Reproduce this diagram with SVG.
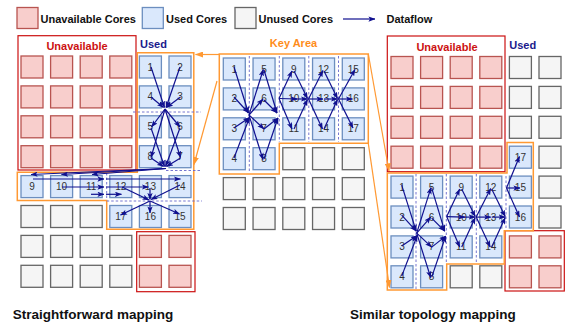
<svg xmlns="http://www.w3.org/2000/svg" xmlns:xlink="http://www.w3.org/1999/xlink" width="569" height="328" viewBox="0 0 569 328">
  <style>
    text { font-family: "Liberation Sans", Arial, sans-serif; }
    .un { fill: #F8CECC; stroke: #B85450; stroke-width: 1.3; }
    .us { fill: #DAE8FC; stroke: #6C8EBF; stroke-width: 1.3; }
    .uu { fill: #F5F5F5; stroke: #666666; stroke-width: 1.3; }
    .nl { font-size: 10px; fill: #333333; text-anchor: middle; }
    .lg { font-size: 11px; font-weight: bold; fill: #111111; }
    .cap { font-size: 13.5px; font-weight: bold; fill: #111111; }
    .redbox { fill: none; stroke: #CC1111; stroke-width: 1.2; }
    .orbox { fill: none; stroke: #FF9933; stroke-width: 1.5; }
    .redlbl { font-size: 11px; font-weight: bold; fill: #CC1111; text-anchor: middle; }
    .usedlbl { font-size: 11px; font-weight: bold; fill: #1A1A8C; }
    .keylbl { font-size: 11px; font-weight: bold; fill: #FF8C1A; text-anchor: middle; }
    .df { fill: none; stroke: #10108F; stroke-width: 1.2; marker-end: url(#ah); }
    .zoom { fill: none; stroke: #FF9933; stroke-width: 1.2; marker-end: url(#oh); }
    .dash { fill: none; stroke: #6666CC; stroke-width: 0.9; stroke-dasharray: 2.5 2; }
  </style>
  <defs>
    <marker id="ah" viewBox="0 0 8 6" refX="7.5" refY="3" markerWidth="7" markerHeight="5.25" orient="auto" markerUnits="userSpaceOnUse">
      <path d="M0,0 L8,3 L0,6 L1.8,3 z" fill="#10108F"/>
    </marker>
    <marker id="oh" viewBox="0 0 8 6" refX="7.5" refY="3" markerWidth="8" markerHeight="6" orient="auto" markerUnits="userSpaceOnUse">
      <path d="M0,0 L8,3 L0,6 z" fill="#FF9933"/>
    </marker>
  </defs>

  <!-- legend -->
  <g id="legend">
    <rect class="un" x="17" y="7.5" width="21" height="21"/>
    <text class="lg" x="40.5" y="22.5">Unavailable Cores</text>
    <rect class="us" x="142.3" y="7.5" width="21" height="21"/>
    <text class="lg" x="166" y="22.5">Used Cores</text>
    <rect class="uu" x="235" y="7.5" width="21" height="21"/>
    <text class="lg" x="258.5" y="22.5">Unused Cores</text>
    <path class="df" d="M343,19 L375,19"/>
    <text class="lg" x="386.5" y="22.5">Dataflow</text>
  </g>

  <!-- ===== left: straightforward mapping ===== -->
  <g id="left-unavailable">
    <rect class="un" x="21" y="56" width="22" height="22"/><rect class="un" x="50.6" y="56" width="22" height="22"/><rect class="un" x="80.2" y="56" width="22" height="22"/><rect class="un" x="109.8" y="56" width="22" height="22"/>
    <rect class="un" x="21" y="85.9" width="22" height="22"/><rect class="un" x="50.6" y="85.9" width="22" height="22"/><rect class="un" x="80.2" y="85.9" width="22" height="22"/><rect class="un" x="109.8" y="85.9" width="22" height="22"/>
    <rect class="un" x="21" y="115.8" width="22" height="22"/><rect class="un" x="50.6" y="115.8" width="22" height="22"/><rect class="un" x="80.2" y="115.8" width="22" height="22"/><rect class="un" x="109.8" y="115.8" width="22" height="22"/>
    <rect class="un" x="21" y="145.7" width="22" height="22"/><rect class="un" x="50.6" y="145.7" width="22" height="22"/><rect class="un" x="80.2" y="145.7" width="22" height="22"/><rect class="un" x="109.8" y="145.7" width="22" height="22"/>
    <rect class="un" x="139.4" y="235.4" width="22" height="22"/><rect class="un" x="169" y="235.4" width="22" height="22"/>
    <rect class="un" x="139.4" y="265.3" width="22" height="22"/><rect class="un" x="169" y="265.3" width="22" height="22"/>
  </g>
  <g id="left-unused">
    <rect class="uu" x="21" y="205.5" width="22" height="22"/><rect class="uu" x="50.6" y="205.5" width="22" height="22"/><rect class="uu" x="80.2" y="205.5" width="22" height="22"/>
    <rect class="uu" x="21" y="235.4" width="22" height="22"/><rect class="uu" x="50.6" y="235.4" width="22" height="22"/><rect class="uu" x="80.2" y="235.4" width="22" height="22"/><rect class="uu" x="109.8" y="235.4" width="22" height="22"/>
    <rect class="uu" x="21" y="265.3" width="22" height="22"/><rect class="uu" x="50.6" y="265.3" width="22" height="22"/><rect class="uu" x="80.2" y="265.3" width="22" height="22"/><rect class="uu" x="109.8" y="265.3" width="22" height="22"/>
  </g>
  <g id="l1"><rect class="us" x="139.4" y="56" width="22" height="22"/><text class="nl" x="150.4" y="70.5">1</text></g>
  <g id="l2"><rect class="us" x="169" y="56" width="22" height="22"/><text class="nl" x="180" y="70.5">2</text></g>
  <g id="l4"><rect class="us" x="139.4" y="85.9" width="22" height="22"/><text class="nl" x="150.4" y="100.4">4</text></g>
  <g id="l3"><rect class="us" x="169" y="85.9" width="22" height="22"/><text class="nl" x="180" y="100.4">3</text></g>
  <g id="l5"><rect class="us" x="139.4" y="115.8" width="22" height="22"/><text class="nl" x="150.4" y="130.3">5</text></g>
  <g id="l6"><rect class="us" x="169" y="115.8" width="22" height="22"/><text class="nl" x="180" y="130.3">6</text></g>
  <g id="l8"><rect class="us" x="139.4" y="145.7" width="22" height="22"/><text class="nl" x="150.4" y="160.2">8</text></g>
  <g id="l7"><rect class="us" x="169" y="145.7" width="22" height="22"/><text class="nl" x="180" y="160.2">7</text></g>
  <g id="l9"><rect class="us" x="21" y="175.6" width="22" height="22"/><text class="nl" x="32" y="190.1">9</text></g>
  <g id="l10"><rect class="us" x="50.6" y="175.6" width="22" height="22"/><text class="nl" x="61.6" y="190.1">10</text></g>
  <g id="l11"><rect class="us" x="80.2" y="175.6" width="22" height="22"/><text class="nl" x="91.2" y="190.1">11</text></g>
  <g id="l12"><rect class="us" x="109.8" y="175.6" width="22" height="22"/><text class="nl" x="120.8" y="190.1">12</text></g>
  <g id="l13"><rect class="us" x="139.4" y="175.6" width="22" height="22"/><text class="nl" x="150.4" y="190.1">13</text></g>
  <g id="l14"><rect class="us" x="169" y="175.6" width="22" height="22"/><text class="nl" x="180" y="190.1">14</text></g>
  <g id="l17"><rect class="us" x="109.8" y="205.5" width="22" height="22"/><text class="nl" x="120.8" y="220">17</text></g>
  <g id="l16"><rect class="us" x="139.4" y="205.5" width="22" height="22"/><text class="nl" x="150.4" y="220">16</text></g>
  <g id="l15"><rect class="us" x="169" y="205.5" width="22" height="22"/><text class="nl" x="180" y="220">15</text></g>

  <g id="left-frames">
    <rect class="redbox" x="18" y="35.7" width="118" height="134.3"/>
    <text class="redlbl" x="77" y="50">Unavailable</text>
    <text class="usedlbl" x="140" y="48.3">Used</text>
    <rect class="redbox" x="136.7" y="231.7" width="58.3" height="60"/>
    <polygon class="orbox" points="137.3,52.7 193.8,52.7 193.8,229.3 106.7,229.3 106.7,200.5 17.3,200.5 17.3,172.3 137.3,172.3"/>
    <path class="dash" d="M133,112 L201,112 M166,170.5 L202,170.5 M106.7,201 L202,201 M106.7,173 L106.7,200"/>
  </g>

  <!-- ===== middle: key area ===== -->
  <g id="key-unused">
    <rect class="uu" x="282.8" y="147.7" width="22" height="22"/><rect class="uu" x="312.55" y="147.7" width="22" height="22"/><rect class="uu" x="342.3" y="147.7" width="22" height="22"/>
    <rect class="uu" x="223.3" y="177.6" width="22" height="22"/><rect class="uu" x="253.05" y="177.6" width="22" height="22"/><rect class="uu" x="282.8" y="177.6" width="22" height="22"/><rect class="uu" x="312.55" y="177.6" width="22" height="22"/><rect class="uu" x="342.3" y="177.6" width="22" height="22"/>
    <rect class="uu" x="223.3" y="207.5" width="22" height="22"/><rect class="uu" x="253.05" y="207.5" width="22" height="22"/><rect class="uu" x="282.8" y="207.5" width="22" height="22"/><rect class="uu" x="312.55" y="207.5" width="22" height="22"/><rect class="uu" x="342.3" y="207.5" width="22" height="22"/>
  </g>
  <g id="k1"><rect class="us" x="223.3" y="58" width="22" height="22"/><text class="nl" x="234.3" y="72.5">1</text></g>
  <g id="k2"><rect class="us" x="223.3" y="87.9" width="22" height="22"/><text class="nl" x="234.3" y="102.4">2</text></g>
  <g id="k3"><rect class="us" x="223.3" y="117.8" width="22" height="22"/><text class="nl" x="234.3" y="132.3">3</text></g>
  <g id="k4"><rect class="us" x="223.3" y="147.7" width="22" height="22"/><text class="nl" x="234.3" y="162.2">4</text></g>
  <g id="k5"><rect class="us" x="253.05" y="58" width="22" height="22"/><text class="nl" x="264.05" y="72.5">5</text></g>
  <g id="k6"><rect class="us" x="253.05" y="87.9" width="22" height="22"/><text class="nl" x="264.05" y="102.4">6</text></g>
  <g id="k7"><rect class="us" x="253.05" y="117.8" width="22" height="22"/><text class="nl" x="264.05" y="132.3">7</text></g>
  <g id="k8"><rect class="us" x="253.05" y="147.7" width="22" height="22"/><text class="nl" x="264.05" y="162.2">8</text></g>
  <g id="k9"><rect class="us" x="282.8" y="58" width="22" height="22"/><text class="nl" x="293.8" y="72.5">9</text></g>
  <g id="k10"><rect class="us" x="282.8" y="87.9" width="22" height="22"/><text class="nl" x="293.8" y="102.4">10</text></g>
  <g id="k11"><rect class="us" x="282.8" y="117.8" width="22" height="22"/><text class="nl" x="293.8" y="132.3">11</text></g>
  <g id="k12"><rect class="us" x="312.55" y="58" width="22" height="22"/><text class="nl" x="323.55" y="72.5">12</text></g>
  <g id="k13"><rect class="us" x="312.55" y="87.9" width="22" height="22"/><text class="nl" x="323.55" y="102.4">13</text></g>
  <g id="k14"><rect class="us" x="312.55" y="117.8" width="22" height="22"/><text class="nl" x="323.55" y="132.3">14</text></g>
  <g id="k15"><rect class="us" x="342.3" y="58" width="22" height="22"/><text class="nl" x="353.3" y="72.5">15</text></g>
  <g id="k16"><rect class="us" x="342.3" y="87.9" width="22" height="22"/><text class="nl" x="353.3" y="102.4">16</text></g>
  <g id="k17"><rect class="us" x="342.3" y="117.8" width="22" height="22"/><text class="nl" x="353.3" y="132.3">17</text></g>

  <g id="key-frame">
    <text class="keylbl" x="293.5" y="46.7">Key Area</text>
    <polygon class="orbox" points="219.3,54 368.3,54 368.3,143.3 279.3,143.3 279.3,174 219.3,174"/>
    <path class="dash" d="M249.3,56 L249.3,171 M279.3,56 L279.3,142 M308.8,56 L308.8,142 M338.5,56 L338.5,142"/>
  </g>

  <!-- ===== right: similar topology mapping ===== -->
  <g id="right-unavailable">
    <rect class="un" x="391" y="56.5" width="22" height="22"/><rect class="un" x="420.6" y="56.5" width="22" height="22"/><rect class="un" x="450.2" y="56.5" width="22" height="22"/><rect class="un" x="479.8" y="56.5" width="22" height="22"/>
    <rect class="un" x="391" y="86.4" width="22" height="22"/><rect class="un" x="420.6" y="86.4" width="22" height="22"/><rect class="un" x="450.2" y="86.4" width="22" height="22"/><rect class="un" x="479.8" y="86.4" width="22" height="22"/>
    <rect class="un" x="391" y="116.3" width="22" height="22"/><rect class="un" x="420.6" y="116.3" width="22" height="22"/><rect class="un" x="450.2" y="116.3" width="22" height="22"/><rect class="un" x="479.8" y="116.3" width="22" height="22"/>
    <rect class="un" x="391" y="146.2" width="22" height="22"/><rect class="un" x="420.6" y="146.2" width="22" height="22"/><rect class="un" x="450.2" y="146.2" width="22" height="22"/><rect class="un" x="479.8" y="146.2" width="22" height="22"/>
    <rect class="un" x="509.4" y="235.9" width="22" height="22"/><rect class="un" x="539" y="235.9" width="22" height="22"/>
    <rect class="un" x="509.4" y="265.8" width="22" height="22"/><rect class="un" x="539" y="265.8" width="22" height="22"/>
  </g>
  <g id="right-unused">
    <rect class="uu" x="509.4" y="56.5" width="22" height="22"/><rect class="uu" x="539" y="56.5" width="22" height="22"/>
    <rect class="uu" x="509.4" y="86.4" width="22" height="22"/><rect class="uu" x="539" y="86.4" width="22" height="22"/>
    <rect class="uu" x="509.4" y="116.3" width="22" height="22"/><rect class="uu" x="539" y="116.3" width="22" height="22"/>
    <rect class="uu" x="539" y="146.2" width="22" height="22"/>
    <rect class="uu" x="539" y="176.1" width="22" height="22"/>
    <rect class="uu" x="539" y="206" width="22" height="22"/>
    <rect class="uu" x="450.2" y="265.8" width="22" height="22"/><rect class="uu" x="479.8" y="265.8" width="22" height="22"/>
  </g>
  <g id="r17"><rect class="us" x="509.4" y="146.2" width="22" height="22"/><text class="nl" x="520.4" y="160.7">17</text></g>
  <g id="r1"><rect class="us" x="391" y="176.1" width="22" height="22"/><text class="nl" x="402" y="190.6">1</text></g>
  <g id="r5"><rect class="us" x="420.6" y="176.1" width="22" height="22"/><text class="nl" x="431.6" y="190.6">5</text></g>
  <g id="r9"><rect class="us" x="450.2" y="176.1" width="22" height="22"/><text class="nl" x="461.2" y="190.6">9</text></g>
  <g id="r12"><rect class="us" x="479.8" y="176.1" width="22" height="22"/><text class="nl" x="490.8" y="190.6">12</text></g>
  <g id="r15"><rect class="us" x="509.4" y="176.1" width="22" height="22"/><text class="nl" x="520.4" y="190.6">15</text></g>
  <g id="r2"><rect class="us" x="391" y="206" width="22" height="22"/><text class="nl" x="402" y="220.5">2</text></g>
  <g id="r6"><rect class="us" x="420.6" y="206" width="22" height="22"/><text class="nl" x="431.6" y="220.5">6</text></g>
  <g id="r10"><rect class="us" x="450.2" y="206" width="22" height="22"/><text class="nl" x="461.2" y="220.5">10</text></g>
  <g id="r13"><rect class="us" x="479.8" y="206" width="22" height="22"/><text class="nl" x="490.8" y="220.5">13</text></g>
  <g id="r16"><rect class="us" x="509.4" y="206" width="22" height="22"/><text class="nl" x="520.4" y="220.5">16</text></g>
  <g id="r3"><rect class="us" x="391" y="235.9" width="22" height="22"/><text class="nl" x="402" y="250.4">3</text></g>
  <g id="r7"><rect class="us" x="420.6" y="235.9" width="22" height="22"/><text class="nl" x="431.6" y="250.4">7</text></g>
  <g id="r11"><rect class="us" x="450.2" y="235.9" width="22" height="22"/><text class="nl" x="461.2" y="250.4">11</text></g>
  <g id="r14"><rect class="us" x="479.8" y="235.9" width="22" height="22"/><text class="nl" x="490.8" y="250.4">14</text></g>
  <g id="r4"><rect class="us" x="391" y="265.8" width="22" height="22"/><text class="nl" x="402" y="280.3">4</text></g>
  <g id="r8"><rect class="us" x="420.6" y="265.8" width="22" height="22"/><text class="nl" x="431.6" y="280.3">8</text></g>

  <g id="right-frames">
    <rect class="redbox" x="387.3" y="36" width="117.7" height="135.7"/>
    <text class="redlbl" x="447" y="51">Unavailable</text>
    <text class="usedlbl" x="509.3" y="49.3">Used</text>
    <rect class="redbox" x="505" y="230.7" width="59.3" height="60.3"/>
    <polygon class="orbox" points="387.3,173 507,173 507,142.5 533.3,142.5 533.3,230.7 504.3,230.7 504.3,264 446.7,264 446.7,290 387.3,290"/>
    <path class="dash" d="M416,174 L416,289 M446.3,174 L446.3,262 M476.3,174 L476.3,262 M506,176 L506,228"/>
  </g>

  <!-- ===== connectors ===== -->
  <g id="connectors">
    <!-- zoom lines from the key area -->
    <path class="zoom" d="M219.3,54.5 L195.5,54.5"/>
    <path class="zoom" d="M217,81 L194,164.5"/>
    <path class="zoom" d="M368.3,54 L389,171"/>
    <path class="zoom" d="M368.3,143.3 L389.5,287.5"/>

    <!-- left dataflow -->
    <path class="df" d="M151,67 L164.5,107.5"/>
    <path class="df" d="M180,67 L166,107.5"/>
    <path class="df" d="M151,97 L163.5,107.5"/>
    <path class="df" d="M180.5,97 L166.5,107.5"/>
    <path class="df" d="M165,109 L151.5,127"/>
    <path class="df" d="M165,109 L180,127"/>
    <path class="df" d="M165,109 L151,157.5"/>
    <path class="df" d="M165,109 L180.5,157.5"/>
    <path class="df" d="M151,128 L164.5,166.5"/>
    <path class="df" d="M180,128 L165.5,166.5"/>
    <path class="df" d="M151,158 L163.5,166.5"/>
    <path class="df" d="M180.5,158 L166.5,166.5"/>
    <path class="df" d="M166,168.5 L31,174.5"/>
    <path class="df" d="M166,168.5 L61.5,174.5"/>
    <path class="df" d="M166,168.5 L92,174.5"/>
    <path class="df" d="M33,179 L104,179"/>
    <path class="df" d="M106,179 L180.5,179"/>
    <path class="df" d="M62,187 L104,187"/>
    <path class="df" d="M106,187 L148.5,187"/>
    <path class="df" d="M91,194.3 L104,194.3"/>
    <path class="df" d="M106,194.3 L121.5,194.3"/>
    <path class="df" d="M122,187 L149,200"/>
    <path class="df" d="M150,188 L150,199.5"/>
    <path class="df" d="M180,185 L151,199.5"/>
    <path class="df" d="M150,201 L120.5,215"/>
    <path class="df" d="M150,201 L150,213"/>
    <path class="df" d="M150,201 L179.5,214"/>

    <!-- key area dataflow, layers 1 to 14 (shared by both topologies) -->
    <g id="flow-core">
      <path class="df" d="M234,67 L248.5,113"/>
      <path class="df" d="M234,97 L248.5,113"/>
      <path class="df" d="M234,128 L249.5,117.5"/>
      <path class="df" d="M234,158 L249.5,117.5"/>
      <path class="df" d="M249,115 L263.3,69.5"/>
      <path class="df" d="M249,115 L263,99"/>
      <path class="df" d="M249,115 L264,129"/>
      <path class="df" d="M249,115 L263,159.5"/>
      <path class="df" d="M264,70 L277,113"/>
      <path class="df" d="M264,100 L277,113"/>
      <path class="df" d="M264,129 L278,118"/>
      <path class="df" d="M264,159 L278,118"/>
      <path class="df" d="M279,98.5 L292,71"/>
      <path class="df" d="M279,98.5 L297,99"/>
      <path class="df" d="M279,98.5 L292,129"/>
      <path class="df" d="M294,71 L307.5,98.5"/>
      <path class="df" d="M294,99 L307.5,99"/>
      <path class="df" d="M294,129 L307.5,99.5"/>
      <path class="df" d="M308.5,99 L323,70.5"/>
      <path class="df" d="M308.5,99 L323,99"/>
      <path class="df" d="M308.5,99 L322.5,129"/>
      <path class="df" d="M324,71 L337.5,98.5"/>
      <path class="df" d="M324,99 L337.5,99"/>
      <path class="df" d="M324,129 L337.5,99.5"/>
    </g>
    <path class="df" d="M338.5,99 L355,69.5"/>
    <path class="df" d="M338.5,99 L352.5,99"/>
    <path class="df" d="M338.5,99 L353,128"/>

    <!-- right dataflow -->
    <use xlink:href="#flow-core" href="#flow-core" transform="translate(167.7,118.1)"/>
    <path class="df" d="M506.5,188 L519.5,156.5"/>
    <path class="df" d="M506.5,188 L520,188"/>
    <path class="df" d="M506.5,188 L519.5,217"/>
  </g>

  <!-- captions -->
  <text class="cap" x="12.7" y="319.3">Straightforward mapping</text>
  <text class="cap" x="350" y="319.3">Similar topology mapping</text>
</svg>
